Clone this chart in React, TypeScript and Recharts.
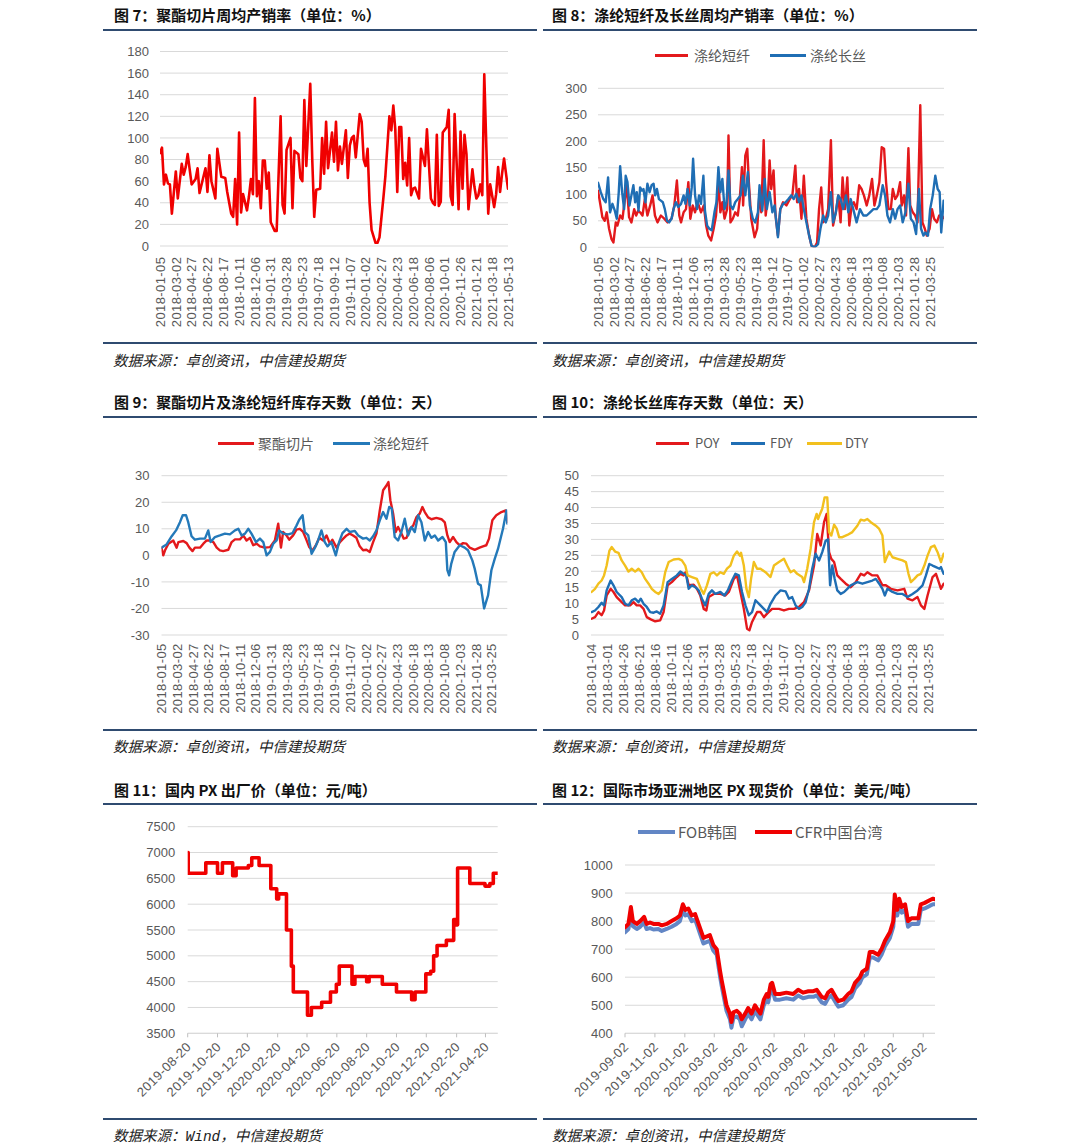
import React from 'react';
import { LineChart, Line, XAxis, YAxis, CartesianGrid } from 'recharts';

const NUM_FONT = '"Liberation Sans", Arial, sans-serif';
const CJK_FONT = '"Noto Sans CJK SC", "Noto Sans", sans-serif';
const TICK_COLOR = '#595959';
const GRID_COLOR = '#D9D9D9';
const RULE_COLOR = '#2F4B70';

// ---------- 图7 聚酯切片周均产销率 ----------
const c7Labels = ['2018-01-05','2018-03-02','2018-04-27','2018-06-22','2018-08-17','2018-10-11','2018-12-06','2019-01-31','2019-03-28','2019-05-23','2019-07-18','2019-09-12','2019-11-07','2020-01-02','2020-02-27','2020-04-23','2020-06-18','2020-08-06','2020-10-01','2020-11-26','2021-01-21','2021-03-18','2021-05-13'];
const c7Rate = [[0,86],[1,91],[2,57],[3,66],[4,58],[5,57],[6,30],[8,69],[9,44],[11,76],[12,66],[13,73],[14,85],[16,57],[18,62],[19,72],[20,49],[23,72],[24,50],[25,84],[26,60],[28,44],[29,90],[31,64],[33,63],[34,50],[36,30],[37,27],[38,62],[39,20],[40,105],[41,31],[42,48],[44,33],[45,46],[46,62],[47,48],[48,137],[49,46],[50,60],[51,35],[52,79],[53,79],[54,53],[55,68],[56,22],[57,18],[58,14],[59,14],[61,120],[62,38],[63,30],[64,89],[66,100],[67,35],[68,88],[70,85],[71,63],[72,60],[73,135],[74,74],[76,150],[77,80],[78,27],[79,52],[81,53],[82,100],[83,67],[84,115],[85,72],[87,105],[88,78],[89,115],[90,70],[91,92],[92,76],[94,107],[95,63],[96,93],[97,100],[98,102],[99,82],[101,122],[102,115],[103,80],[104,74],[105,90],[106,40],[107,15],[109,3],[110,3],[111,8],[113,45],[114,65],[116,120],[117,107],[118,130],[119,108],[120,50],[121,110],[122,110],[123,62],[124,77],[125,56],[126,100],[127,47],[128,53],[129,54],[131,44],[132,90],[134,74],[135,108],[137,44],[138,40],[139,38],[140,103],[141,37],[142,41],[143,105],[145,110],[146,126],[147,46],[148,38],[149,122],[151,34],[152,106],[153,53],[154,103],[155,85],[156,34],[158,71],[159,55],[160,44],[161,47],[162,57],[163,47],[164,159],[166,30],[167,57],[169,36],[170,48],[171,73],[172,50],[173,67],[174,81],[176,53]];
const c7YTicks = [0,20,40,60,80,100,120,140,160,180];

// ---------- 图8 涤纶短纤及长丝周均产销率 ----------
const c8Labels = ['2018-01-05','2018-03-02','2018-04-27','2018-06-22','2018-08-17','2018-10-11','2018-12-06','2019-01-31','2019-03-28','2019-05-23','2019-07-18','2019-09-12','2019-11-07','2020-01-02','2020-02-27','2020-04-23','2020-06-18','2020-08-13','2020-10-08','2020-12-03','2021-01-28','2021-03-25'];
const c8Staple = [[0,107],[1.4,76],[2.2,57],[3.4,50],[4.4,66],[5.6,35],[6.8,16],[7.8,9],[9,47],[9.8,41],[11.2,60],[12.4,54],[13.2,79],[14.6,117],[15.7,57],[16.9,47],[18.3,72],[19.3,60],[20.3,69],[21.3,66],[22.5,60],[23.7,91],[25,60],[26.4,79],[27.6,98],[28.8,60],[30.1,47],[31.8,60],[33.5,54],[35.2,47],[37.2,54],[38.6,79],[39.9,126],[41.1,60],[42,47],[43.3,66],[44.5,72],[45.7,123],[46.7,54],[47.9,79],[49.1,66],[50.4,85],[52.1,66],[53.5,79],[54.7,41],[55.8,22],[57.2,13],[58.5,35],[59.7,60],[60.9,123],[61.9,66],[62.9,85],[64,54],[65.3,72],[66,211],[67,47],[68.2,54],[69.4,66],[70.7,60],[71.7,91],[72.8,151],[73.4,79],[74.5,173],[75.5,186],[76.3,123],[77.5,54],[79.2,19],[80.5,35],[81.7,104],[82.6,66],[83.8,202],[84.8,60],[86,98],[86.8,164],[87.6,110],[88.8,145],[89.8,60],[91,22],[92.2,72],[93.6,85],[95.3,79],[97,91],[98.3,98],[99.8,154],[100.7,85],[101.7,110],[102.9,54],[104.1,135],[105.4,54],[106.8,22],[108,3],[109.6,0],[110.8,9],[111.8,72],[112.9,113],[113.9,47],[115.2,54],[116.4,72],[117.8,202],[118.9,41],[120.3,66],[121.5,98],[122.7,47],[123.7,132],[124.9,72],[126.1,132],[127.1,41],[128.3,79],[129.4,85],[130.8,72],[132.1,117],[133.3,110],[134.5,98],[135.9,79],[137.2,98],[138.6,129],[139.8,79],[141,98],[142.3,123],[143.5,189],[144.7,186],[145.7,123],[146.9,72],[148.1,72],[149.1,110],[150.3,91],[151.5,98],[152.8,123],[153.6,79],[154.8,98],[155.8,60],[157,187],[157.9,79],[159.2,66],[160.4,60],[161.6,47],[163,268],[164.1,47],[165.3,35],[166.3,22],[167.7,35],[168.9,72],[170,54],[171.4,47],[172.6,60],[173.9,60],[174.8,55]];
const c8Filament = [[0,122],[1.4,104],[2.7,91],[3.9,85],[5.1,132],[6.1,66],[7.3,82],[8.5,69],[9.5,54],[10.5,104],[11.2,153],[12.2,104],[13.2,72],[14,135],[14.9,123],[15.9,79],[16.9,98],[17.9,117],[18.8,85],[19.6,104],[20.5,69],[21.3,113],[22.2,107],[23,110],[24,85],[25,120],[26.1,104],[27.1,117],[28.1,120],[28.9,98],[29.8,110],[30.8,91],[31.8,88],[32.8,85],[33.8,72],[34.9,50],[36,47],[37.2,54],[38.2,72],[39.4,85],[40.6,76],[42,82],[43.3,98],[44.2,82],[45.3,110],[46.4,79],[47.4,113],[48.1,167],[49.1,98],[50.1,72],[51.1,98],[52.1,82],[53.3,135],[54.1,69],[55.2,41],[56.3,35],[57.5,32],[58.9,66],[59.9,85],[60.9,151],[61.9,104],[62.9,129],[64,72],[65,85],[66,145],[67,79],[68.2,72],[69.4,85],[70.7,91],[72.1,98],[73.3,135],[74.5,98],[75.8,142],[76.8,79],[78.3,54],[79.5,47],[80.9,66],[81.7,117],[83.1,69],[84.3,129],[85.4,72],[86.8,104],[88.2,66],[89.3,79],[91,19],[92.2,72],[93.6,82],[94.9,85],[96.3,91],[97.8,98],[99,91],[100.3,101],[101.7,85],[102.9,98],[104.1,72],[105.4,47],[106.8,22],[108,3],[109.6,0],[111.3,6],[112.5,35],[113.9,60],[115.2,47],[116.4,60],[117.8,104],[118.9,47],[120.3,66],[121.5,98],[122.7,91],[124,72],[125.4,98],[126.6,66],[127.8,91],[129.1,72],[130.8,47],[132.5,72],[134.2,60],[135.9,60],[137.6,66],[139.3,72],[141,72],[142.3,79],[144,117],[145.2,98],[146.4,60],[147.7,47],[149.1,72],[150.3,54],[151.5,72],[152.8,79],[154.1,47],[155.5,66],[157,120],[158.2,54],[159.6,47],[160.9,25],[162.3,110],[163.4,35],[164.6,22],[165.6,28],[166.9,22],[168,72],[169.3,98],[170.6,135],[171.8,110],[172.8,104],[173.6,28],[174.8,88]];
const c8YTicks = [0,50,100,150,200,250,300];

// ---------- 图9 聚酯切片及涤纶短纤库存天数 ----------
const c9Labels = c8Labels;
const c9Chip = [[0,2.9],[0.9,0],[1.8,1.9],[3.5,4.4],[6,5.6],[7.7,2.9],[8.6,5],[11.1,5.4],[12.8,4.6],[14.2,2.9],[15.8,1.6],[17,2.9],[19.6,2.9],[21.3,4.4],[23,5.6],[24.7,5.6],[26.4,5],[28.1,2.9],[29.7,1.9],[31.4,1.6],[34,2.1],[35.7,5],[37.4,6],[39.9,6],[41.6,7.5],[43.3,5.6],[45,6.6],[46.7,3.8],[48.4,4.4],[50.1,3.4],[52.6,2.9],[55.2,3.1],[57.7,5.6],[59.4,11.9],[60.8,2.9],[61.9,8.8],[63.6,7.5],[65,5.9],[67,7.5],[68.7,9.7],[70.4,10],[72.1,8.8],[73.5,6.3],[75.2,3.1],[76.9,1.9],[78.6,3.8],[80.3,6.6],[82.3,5.6],[84,7.5],[85.7,4.4],[87,5.9],[89.1,2.9],[90.8,5],[92.5,6.3],[94.2,7.5],[95.8,8.2],[97.5,7.5],[99.2,6.6],[100.9,3.4],[102.6,1.9],[104.3,2.1],[106,1.3],[107.7,5],[109.4,8.2],[111.1,16.9],[112.8,24.5],[114.5,26.3],[115.5,27.6],[116.5,20.7],[117.9,15.7],[119.2,8.8],[120.4,10.7],[122.1,8.2],[123.3,6.3],[124.7,6.6],[126.4,10],[128.1,11.2],[129.7,14.3],[131.4,15.7],[132.8,18.2],[134,16.3],[135.7,14.3],[137.4,13.6],[139.9,14.1],[142.5,13.6],[144.2,12.4],[145.5,7.5],[146.7,5],[148.4,6.9],[150.1,5],[151.8,3.8],[153.5,4.6],[155.2,4.4],[156.9,2.9],[159.4,2.1],[161.9,2.9],[163.6,3.4],[165.3,3.8],[166.7,6.3],[168.4,13.2],[170.4,15.1],[173,16.3],[175.2,16.9],[176,12.5]];
const c9Staple = [[0,2.9],[2.6,4.1],[5.2,7.2],[7.4,9.4],[9.4,12.5],[10.8,15.1],[12.5,15.1],[13.6,12.5],[15.3,7.2],[17,5.9],[19.6,6.3],[22.1,6.3],[23.8,9.4],[25,5],[27.2,6.9],[29.7,7.5],[32.3,8.2],[34.8,7.9],[37.4,9.4],[39.1,10],[40.8,7.5],[42.5,8.2],[44.2,10],[45.8,8.2],[48.1,5],[50.1,6.3],[51.8,5],[53.5,0],[55.2,1.3],[56.9,4.4],[58.6,5.6],[59.9,9.4],[61.9,8.2],[64.5,7.9],[66.7,8.4],[68.7,11.2],[70.1,13.4],[71.8,15.1],[72.9,8.8],[74.7,7.5],[76.4,0.6],[78.1,2.9],[79.7,5.6],[81.4,9.4],[83.1,5],[84.5,3.4],[86.5,5],[88.7,0],[90.4,5],[92.1,8.4],[94.2,10],[95.8,8.8],[98.4,9.2],[100.1,7.5],[102.6,6.3],[104.3,6.6],[106,5.6],[107.7,7.2],[109.4,9.4],[111.1,13.2],[112.8,16.3],[114.5,13.8],[115.9,18.2],[117.2,17.6],[118.7,6.9],[120.4,5.6],[122.1,8.8],[123.8,13.8],[125.5,7.5],[127.2,10.7],[128.9,8.8],[130.6,15.1],[132.3,12.5],[134,5.6],[135.7,8.8],[137.4,6.6],[139.1,7.5],[140.8,5.6],[143,6.9],[144.7,5],[145.5,-5.6],[146.4,-7.5],[147.5,-3.1],[149.2,1.3],[151.8,3.8],[154.3,2.9],[156,1.9],[158.2,-1.9],[159.4,-5],[161.1,-10.7],[162.5,-11.3],[164.2,-20],[166.2,-15.1],[167.9,-5.6],[169.6,-1.3],[171.3,2.5],[173.8,10],[175.6,16.9],[176,11.9]];
const c9YTicks = [-30,-20,-10,0,10,20,30];

// ---------- 图10 涤纶长丝库存天数 ----------
const c10Labels = ['2018-01-04','2018-03-01','2018-04-26','2018-06-21','2018-08-16','2018-10-11','2018-12-06','2019-01-31','2019-03-28','2019-05-23','2019-07-18','2019-09-12','2019-11-07','2020-01-02','2020-02-27','2020-04-23','2020-06-18','2020-08-13','2020-10-08','2020-12-03','2021-01-28','2021-03-25'];
const c10POY = [[0.3,5.1],[2,5.6],[3.7,7.2],[5.3,6.2],[6.5,7.7],[7.8,12.4],[9.8,14.5],[11.2,13.5],[12.8,11.9],[15.3,10.3],[17,9.3],[19.5,9.3],[21.2,10.3],[22.8,9.3],[24.5,9.3],[26.2,8.2],[27.8,5.6],[29.8,4.9],[32,4.3],[34.5,4.6],[36.2,7.2],[38.2,15.6],[40.3,16.6],[42.8,18.2],[44.5,19.2],[46.2,18.7],[47.2,19.7],[48.7,15.6],[51.2,15.8],[52.8,14.5],[54.5,12.4],[56.2,8.2],[57.5,7.7],[58.7,11.9],[61.2,12.9],[64.5,12.9],[67,12.4],[68.7,13.5],[71.2,17.6],[72.8,18.7],[74.5,13.5],[76.2,8.2],[77.8,2],[79,1.5],[80.3,4.1],[81.5,5.6],[82.8,7.2],[84.5,7.2],[86.2,5.6],[87.8,6.7],[90.3,8.2],[93.7,8.2],[96.2,7.7],[98.7,8.2],[101.2,8.2],[103.7,8.8],[106.2,10.3],[108.7,14],[111.2,21.8],[112.8,31.7],[114.5,28.1],[116.2,35.4],[117.5,38],[118.7,26],[119.8,23.9],[121.2,22.9],[122.8,18.7],[124.5,17.6],[127,16.1],[129.5,15],[132,16.6],[134.5,19.2],[136.2,18.7],[137.8,19.7],[140.3,18.7],[142.8,18.7],[145.3,15.6],[147,15.6],[149.5,14.5],[152.8,14],[156.2,14.5],[157.8,11.4],[160.3,10.9],[162.8,11.9],[164.5,9.3],[166.2,8.2],[167.8,12.4],[170.3,18.2],[172,19.2],[174.5,14.5],[175.8,16.1]];
const c10FDY = [[0.3,7.2],[2,7.7],[3.7,8.8],[5.3,10.1],[6.5,9.3],[7.8,14],[9.8,17.1],[11.2,15.6],[12.8,13.5],[15.3,11.9],[17,9.8],[18.7,9.3],[20.3,10.9],[22,11.4],[23.7,10.3],[24.8,11.4],[26.2,9.8],[27.8,8.8],[29.5,7.2],[31.2,7],[32.8,7.4],[34.5,6.7],[36.2,9.3],[38.2,16.6],[40.3,17.6],[42.8,18.7],[44.5,19.9],[46.2,19.2],[47.5,18.7],[48.7,14.5],[50.3,15.6],[52,15],[53.7,14],[55.3,11.4],[57,9.3],[58.7,12.9],[60.3,14],[62,12.9],[64.5,13.5],[66.5,12.4],[68.2,14],[70.3,17.1],[72,19.2],[73.7,18.7],[75.3,13.5],[77,9.3],[78.7,6.2],[80.3,7.2],[82,10.9],[84.5,9.3],[86.2,8.2],[87.8,7.2],[89.5,9.8],[92,12.4],[94.5,14],[97,13.7],[98.7,11.4],[100.3,11.9],[102,9.3],[103.7,8.2],[105.3,8.8],[107,10.3],[108.7,14.5],[110.3,20.8],[112,25.5],[113.7,23.4],[115.3,26],[117,29.6],[118.2,30],[119.2,15.6],[120.3,21.8],[121.5,17.6],[122.8,14],[124.5,12.9],[126.2,13.5],[127.8,14.5],[129.5,15.6],[132.8,16.6],[135.3,16.1],[137.8,16.6],[140.3,17.1],[142,17.6],[143.7,16.1],[145.3,14.5],[146.5,12.4],[147.8,14.5],[150.3,13.5],[152.8,12.9],[155.3,12.9],[157.8,11.9],[160.3,12.9],[162.8,14],[165.3,15.6],[167,18.7],[168.7,22.3],[170.3,21.8],[172,21.3],[173.7,20.8],[174.5,21.3],[175.8,19.2]];
const c10DTY = [[0.3,13.5],[2,14.5],[3.7,16.1],[5.3,17.1],[6.5,18.7],[7.8,21.8],[9.2,26.5],[10.3,27.6],[12,26.2],[13.7,25.8],[15.3,23.4],[17,21.8],[18.7,19.9],[20.3,20.8],[22,19.9],[23.7,20.8],[25.3,19.7],[27,17.6],[28.7,16.1],[30.3,14.5],[32,13.5],[33.7,12.9],[35.3,14],[37,19.7],[38.7,22.9],[41.2,23.7],[43.7,23.9],[45.3,23.4],[47,21.8],[48.2,18.7],[50.3,18.2],[52.8,17.6],[54.8,14.5],[56.2,12.9],[57.8,15.6],[59.5,19.2],[61.2,19.7],[62.8,18.7],[64.5,19.7],[66.2,19.2],[67.8,20.8],[69.5,21.8],[71.2,24.9],[72.8,26.2],[74.2,24.9],[74.8,25.8],[76.2,21.8],[77.5,14.5],[78.7,11.9],[79.8,17.6],[81.2,22.9],[82.8,20.8],[84.5,20.8],[87,19.7],[89.5,18.2],[91.2,21.8],[93.7,22.9],[96.2,23.9],[97.8,21.8],[99.5,19.7],[101.2,20.3],[102.8,19.2],[105.3,18.2],[106.2,16.6],[107.8,20.8],[109.5,27],[111.2,35.4],[112.5,38],[113.2,36.4],[114.2,38],[115.3,39.6],[116.5,43.2],[117.8,43.2],[118.7,32.3],[119.8,31.2],[121.2,34.6],[122.5,33.4],[123.7,30.7],[125.3,30.7],[127.8,31.4],[130.3,32.3],[132.8,34.3],[134.5,36.2],[136.2,35.9],[137.8,36.4],[139.5,35.4],[142,34.3],[143.7,33.3],[145.3,31.2],[146.5,22.9],[148.7,26.2],[150.3,24.4],[152.8,23.9],[155.3,23.4],[157,22.9],[158.3,19.2],[159.5,16.6],[161.2,17.6],[162.8,18.7],[164.5,19.2],[166.2,21.8],[167.8,24.9],[169.5,27.6],[171.2,28.1],[172.8,26],[174.5,22.9],[175.8,25.5]];
const c10YTicks = [0,5,10,15,20,25,30,35,40,45,50];

// ---------- 图11 国内PX出厂价 (x = days since 2019-08-20) ----------
const c11Base = '2019-08-20';
const c11Labels = ['2019-08-20','2019-10-20','2019-12-20','2020-02-20','2020-04-20','2020-06-20','2020-08-20','2020-10-20','2020-12-20','2021-02-20','2021-04-20'];
const c11Price = [[0,7000],[1,6600],[37,6800],[61,6600],[71,6800],[92,6550],[99,6700],[124,6750],[131,6900],[146,6750],[170,6300],[182,6100],[186,6200],[202,5500],[212,4800],[216,4300],[245,3850],[253,4000],[274,4100],[292,4300],[304,4450],[310,4800],[336,4450],[342,4600],[366,4500],[371,4600],[398,4450],[427,4300],[458,4150],[465,4300],[487,4650],[497,4700],[503,5000],[510,5200],[529,5300],[544,5700],[548,5600],[552,6700],[577,6400],[608,6350],[618,6400],[625,6600],[634,6600]];
const c11YTicks = [3500,4000,4500,5000,5500,6000,6500,7000,7500];

// ---------- 图12 国际市场亚洲地区PX现货价 (x = days since 2019-09-02) ----------
const c12Base = '2019-09-02';
const c12Labels = ['2019-09-02','2019-11-02','2020-01-02','2020-03-02','2020-05-02','2020-07-02','2020-09-02','2020-11-02','2021-01-02','2021-03-02','2021-05-02'];
const c12FOB = [[0,760],[7,772],[12,830],[16,782],[24,772],[31,780],[39,795],[44,772],[51,775],[58,770],[68,772],[75,765],[85,772],[95,780],[105,790],[112,800],[118,840],[123,820],[129,825],[136,800],[143,805],[148,780],[153,755],[160,720],[166,725],[173,730],[180,695],[187,680],[194,600],[197,570],[207,480],[214,450],[217,420],[221,455],[228,460],[234,450],[238,425],[245,450],[251,470],[258,450],[265,480],[272,460],[276,450],[283,500],[289,520],[292,510],[297,555],[300,560],[306,520],[316,520],[329,525],[343,520],[353,535],[363,525],[374,530],[384,530],[391,535],[401,510],[408,505],[414,525],[421,535],[431,505],[435,495],[445,500],[455,520],[462,530],[469,560],[479,580],[484,600],[493,610],[499,670],[506,670],[516,660],[523,680],[530,710],[540,740],[547,780],[550,870],[555,820],[559,855],[564,830],[571,840],[577,780],[584,790],[598,790],[603,840],[611,845],[622,855],[628,860],[632,860]];
const c12CFR = [[0,778],[7,790],[12,850],[16,800],[24,790],[31,800],[39,815],[44,790],[51,795],[58,790],[68,790],[75,785],[85,790],[95,800],[105,810],[112,820],[118,860],[123,840],[129,845],[136,820],[143,825],[148,800],[153,775],[160,740],[166,745],[173,750],[180,715],[187,700],[194,620],[197,590],[207,500],[214,470],[217,440],[221,475],[228,480],[234,470],[238,450],[245,470],[251,490],[258,470],[265,500],[272,480],[276,470],[283,520],[289,540],[292,530],[297,575],[300,580],[306,540],[316,540],[329,545],[343,540],[353,555],[363,545],[374,550],[384,550],[391,555],[401,530],[408,525],[414,545],[421,555],[431,525],[435,515],[445,520],[455,540],[462,550],[469,580],[479,600],[484,620],[493,630],[499,690],[506,690],[516,680],[523,700],[530,730],[540,760],[547,800],[550,895],[555,840],[559,880],[564,850],[571,860],[577,800],[584,810],[598,810],[603,860],[611,865],[622,875],[628,880],[632,878]];
const c12YTicks = [400,500,600,700,800,900,1000];

// ---------- helpers ----------
const toRows = (pts: number[][]) => pts.map(([x, y]) => ({ x, y }));
const dayOf = (base: string, d: string) => Math.round((Date.parse(d + 'T00:00:00Z') - Date.parse(base + 'T00:00:00Z')) / 86400000);
const everyNth = (labels: string[], n: number) => labels.map((_, i) => i * n);

type SeriesDef = { name: string; pts: number[][]; color: string; width: number; step?: boolean };

type ChartProps = {
  left: number; top: number; width: number; height: number;
  margin: { top: number; right: number; bottom: number; left: number };
  yWidth: number; yDomain: [number, number]; yTicks: number[]; yGap: number;
  xDomain: [number, number]; xTicks: number[]; xLabel: (v: number) => string;
  xHeight: number; xGap: number; xKind: 'v' | 'd'; axisTicks?: boolean;
  series: SeriesDef[];
};

function Chart(p: ChartProps) {
  const renderXTick = (tp: any) => {
    const { x, y, payload } = tp;
    const label = p.xLabel(payload.value);
    if (p.xKind === 'v') {
      return (
        <text transform={`translate(${x},${y}) rotate(-90)`} textAnchor="end" dy="0.36em"
          fontSize={13} fill={TICK_COLOR} fontFamily={NUM_FONT} letterSpacing={0.4}>{label}</text>
      );
    }
    return (
      <text transform={`translate(${x + 1},${y + 5}) rotate(-45)`} textAnchor="end" dy="0.36em"
        fontSize={13} fill={TICK_COLOR} fontFamily={NUM_FONT} letterSpacing={0.4}>{label}</text>
    );
  };
  return (
    <div style={{ position: 'absolute', left: p.left, top: p.top, width: p.width, height: p.height }}>
      <LineChart width={p.width} height={p.height} margin={p.margin}>
        <CartesianGrid horizontal vertical={false} stroke={GRID_COLOR} strokeWidth={1} />
        <XAxis type="number" dataKey="x" domain={p.xDomain} ticks={p.xTicks} interval={0}
          height={p.xHeight} allowDataOverflow
          axisLine={p.axisTicks ? { stroke: GRID_COLOR } : false}
          tickLine={p.axisTicks ? { stroke: '#BFBFBF' } : false}
          tickSize={p.axisTicks ? 4 : 0} tickMargin={p.xGap} tick={renderXTick} />
        <YAxis type="number" domain={p.yDomain} ticks={p.yTicks} interval={0} width={p.yWidth}
          allowDataOverflow axisLine={false} tickLine={false} tickSize={0} tickMargin={p.yGap}
          tick={{ fill: TICK_COLOR, fontSize: 13, fontFamily: NUM_FONT }} />
        {p.series.map((s) => (
          <Line key={s.name} name={s.name} data={toRows(s.pts)} dataKey="y"
            type={s.step ? 'stepAfter' : 'linear'} stroke={s.color} strokeWidth={s.width}
            dot={false} activeDot={false} isAnimationActive={false}
            strokeLinejoin="round" strokeLinecap="round" />
        ))}
      </LineChart>
    </div>
  );
}

function Title({ x, y, text }: { x: number; y: number; text: string }) {
  return (
    <div style={{ position: 'absolute', left: x, top: y - 11, height: 22, lineHeight: '22px',
      fontFamily: CJK_FONT, fontWeight: 700, fontSize: 15, color: '#111', whiteSpace: 'nowrap' }}>{text}</div>
  );
}

function Rule({ x1, x2, y }: { x1: number; x2: number; y: number }) {
  return <div style={{ position: 'absolute', left: x1, top: y - 1, width: x2 - x1, height: 2, background: RULE_COLOR }} />;
}

function Source({ x, y, children }: { x: number; y: number; children: React.ReactNode }) {
  return (
    <div style={{ position: 'absolute', left: x, top: y - 11, height: 22, lineHeight: '22px',
      fontFamily: CJK_FONT, fontStyle: 'italic', fontSize: 14.5, color: '#222', whiteSpace: 'nowrap' }}>{children}</div>
  );
}

function LegendItem({ x1, x2, tx, y, color, thick, label, size = 14 }:
  { x1: number; x2: number; tx: number; y: number; color: string; thick: number; label: string; size?: number }) {
  return (
    <>
      <div style={{ position: 'absolute', left: x1, top: y - thick / 2, width: x2 - x1, height: thick, background: color }} />
      <div style={{ position: 'absolute', left: tx, top: y - 11, height: 22, lineHeight: '22px',
        fontFamily: CJK_FONT, fontSize: size, color: '#595959', whiteSpace: 'nowrap' }}>{label}</div>
    </>
  );
}

const SRC = '数据来源：卓创资讯，中信建投期货';

export default function App() {
  const c11Ticks = c11Labels.map((d) => dayOf(c11Base, d));
  const c12Ticks = c12Labels.map((d) => dayOf(c12Base, d));
  const c11Map: Record<number, string> = {};
  c11Labels.forEach((d, i) => { c11Map[c11Ticks[i]] = d; });
  const c12Map: Record<number, string> = {};
  c12Labels.forEach((d, i) => { c12Map[c12Ticks[i]] = d; });

  const weekLabel = (labels: string[]) => (v: number) => labels[Math.round(v / 8)] ?? '';

  return (
    <div style={{ position: 'absolute', left: 0, top: 0, width: 1080, height: 1148, background: '#fff', overflow: 'hidden' }}>
      {/* Row 1 */}
      <Title x={114} y={15} text="图 7：聚酯切片周均产销率（单位：%）" />
      <Title x={552} y={15} text="图 8：涤纶短纤及长丝周均产销率（单位：%）" />
      <Rule x1={103} x2={537} y={29.5} />
      <Rule x1={543} x2={977} y={29.5} />

      <Chart left={103} top={40} width={434} height={300}
        margin={{ top: 11.5, right: 29, bottom: 4, left: 0 }}
        yWidth={57} yDomain={[0, 180]} yTicks={c7YTicks} yGap={11}
        xDomain={[0, 176]} xTicks={everyNth(c7Labels, 8)} xLabel={weekLabel(c7Labels)}
        xHeight={90} xGap={10.7} xKind="v"
        series={[{ name: '聚酯切片', pts: c7Rate, color: '#F00000', width: 2.6 }]} />

      <LegendItem x1={655} x2={688} tx={694} y={55} color="#E3191C" thick={3} label="涤纶短纤" />
      <LegendItem x1={770} x2={806} tx={810} y={55} color="#1F6EB4" thick={3} label="涤纶长丝" />
      <Chart left={543} top={40} width={434} height={300}
        margin={{ top: 48.3, right: 33, bottom: 2.7, left: 0 }}
        yWidth={55} yDomain={[0, 300]} yTicks={c8YTicks} yGap={11}
        xDomain={[0, 175]} xTicks={everyNth(c8Labels, 8)} xLabel={weekLabel(c8Labels)}
        xHeight={90} xGap={9.4} xKind="v"
        series={[
          { name: '涤纶短纤', pts: c8Staple, color: '#E3191C', width: 2.4 },
          { name: '涤纶长丝', pts: c8Filament, color: '#1F6EB4', width: 2.4 },
        ]} />

      <Rule x1={103} x2={537} y={343} />
      <Rule x1={543} x2={977} y={343} />
      <Source x={113} y={360}>{SRC}</Source>
      <Source x={552} y={360}>{SRC}</Source>

      {/* Row 2 */}
      <Title x={114} y={402} text="图 9：聚酯切片及涤纶短纤库存天数（单位：天）" />
      <Title x={552} y={402} text="图 10：涤纶长丝库存天数（单位：天）" />
      <Rule x1={103} x2={537} y={417} />
      <Rule x1={543} x2={977} y={417} />

      <LegendItem x1={218} x2={254} tx={258} y={443.3} color="#E3191C" thick={3} label="聚酯切片" />
      <LegendItem x1={333} x2={370} tx={373} y={443.3} color="#2479B9" thick={3} label="涤纶短纤" />
      <Chart left={103} top={425} width={434} height={300}
        margin={{ top: 50.7, right: 29.7, bottom: 2, left: 0 }}
        yWidth={58.5} yDomain={[-30, 30]} yTicks={c9YTicks} yGap={12}
        xDomain={[0, 176]} xTicks={everyNth(c9Labels, 8)} xLabel={weekLabel(c9Labels)}
        xHeight={88} xGap={8.3} xKind="v"
        series={[
          { name: '聚酯切片', pts: c9Chip, color: '#E3191C', width: 2.4 },
          { name: '涤纶短纤', pts: c9Staple, color: '#2479B9', width: 2.4 },
        ]} />

      <LegendItem x1={656} x2={689} tx={695} y={443.3} color="#E3191C" thick={3} label="POY" size={13} />
      <LegendItem x1={731} x2={765} tx={770} y={443.3} color="#1F6EB4" thick={3} label="FDY" size={13} />
      <LegendItem x1={807} x2={842} tx={845} y={443.3} color="#F2C01E" thick={3} label="DTY" size={13} />
      <Chart left={543} top={425} width={434} height={300}
        margin={{ top: 50.7, right: 33, bottom: 2, left: 0 }}
        yWidth={48} yDomain={[0, 50]} yTicks={c10YTicks} yGap={12}
        xDomain={[0, 176]} xTicks={everyNth(c10Labels, 8)} xLabel={weekLabel(c10Labels)}
        xHeight={88} xGap={8.3} xKind="v"
        series={[
          { name: 'POY', pts: c10POY, color: '#E3191C', width: 2.4 },
          { name: 'FDY', pts: c10FDY, color: '#1F6EB4', width: 2.4 },
          { name: 'DTY', pts: c10DTY, color: '#F2C01E', width: 2.4 },
        ]} />

      <Rule x1={103} x2={537} y={729.5} />
      <Rule x1={543} x2={977} y={729.5} />
      <Source x={113} y={745.5}>{SRC}</Source>
      <Source x={552} y={745.5}>{SRC}</Source>

      {/* Row 3 */}
      <Title x={114} y={790} text="图 11：国内 PX 出厂价（单位：元/吨）" />
      <Title x={552} y={790} text="图 12：国际市场亚洲地区 PX 现货价（单位：美元/吨）" />
      <Rule x1={103} x2={537} y={804.3} />
      <Rule x1={543} x2={977} y={804.3} />

      <Chart left={103} top={810} width={434} height={300}
        margin={{ top: 16.7, right: 39.3, bottom: 2, left: 0 }}
        yWidth={84.7} yDomain={[3500, 7500]} yTicks={c11YTicks} yGap={12.5}
        xDomain={[0, 634]} xTicks={c11Ticks} xLabel={(v) => c11Map[v] ?? ''}
        xHeight={74.7} xGap={2} xKind="d" axisTicks
        series={[{ name: '国内PX出厂价', pts: c11Price, color: '#F00000', width: 3.6, step: true }]} />

      <LegendItem x1={638} x2={675} tx={678} y={831.7} color="#6286C5" thick={4} label="FOB韩国" size={15} />
      <LegendItem x1={755} x2={792} tx={795} y={831.7} color="#F00000" thick={4} label="CFR中国台湾" size={15} />
      <Chart left={543} top={810} width={434} height={300}
        margin={{ top: 55, right: 42, bottom: 2, left: 0 }}
        yWidth={82} yDomain={[400, 1000]} yTicks={c12YTicks} yGap={12.3}
        xDomain={[0, 632]} xTicks={c12Ticks} xLabel={(v) => c12Map[v] ?? ''}
        xHeight={74.7} xGap={2} xKind="d" axisTicks
        series={[
          { name: 'FOB韩国', pts: c12FOB, color: '#6286C5', width: 4 },
          { name: 'CFR中国台湾', pts: c12CFR, color: '#F00000', width: 4 },
        ]} />

      <Rule x1={103} x2={537} y={1118.5} />
      <Rule x1={543} x2={977} y={1118.5} />
      <Source x={113} y={1134.5}>数据来源：<span style={{ fontFamily: '"Liberation Mono", "DejaVu Sans Mono", monospace' }}>Wind</span>，中信建投期货</Source>
      <Source x={552} y={1134.5}>{SRC}</Source>
    </div>
  );
}
